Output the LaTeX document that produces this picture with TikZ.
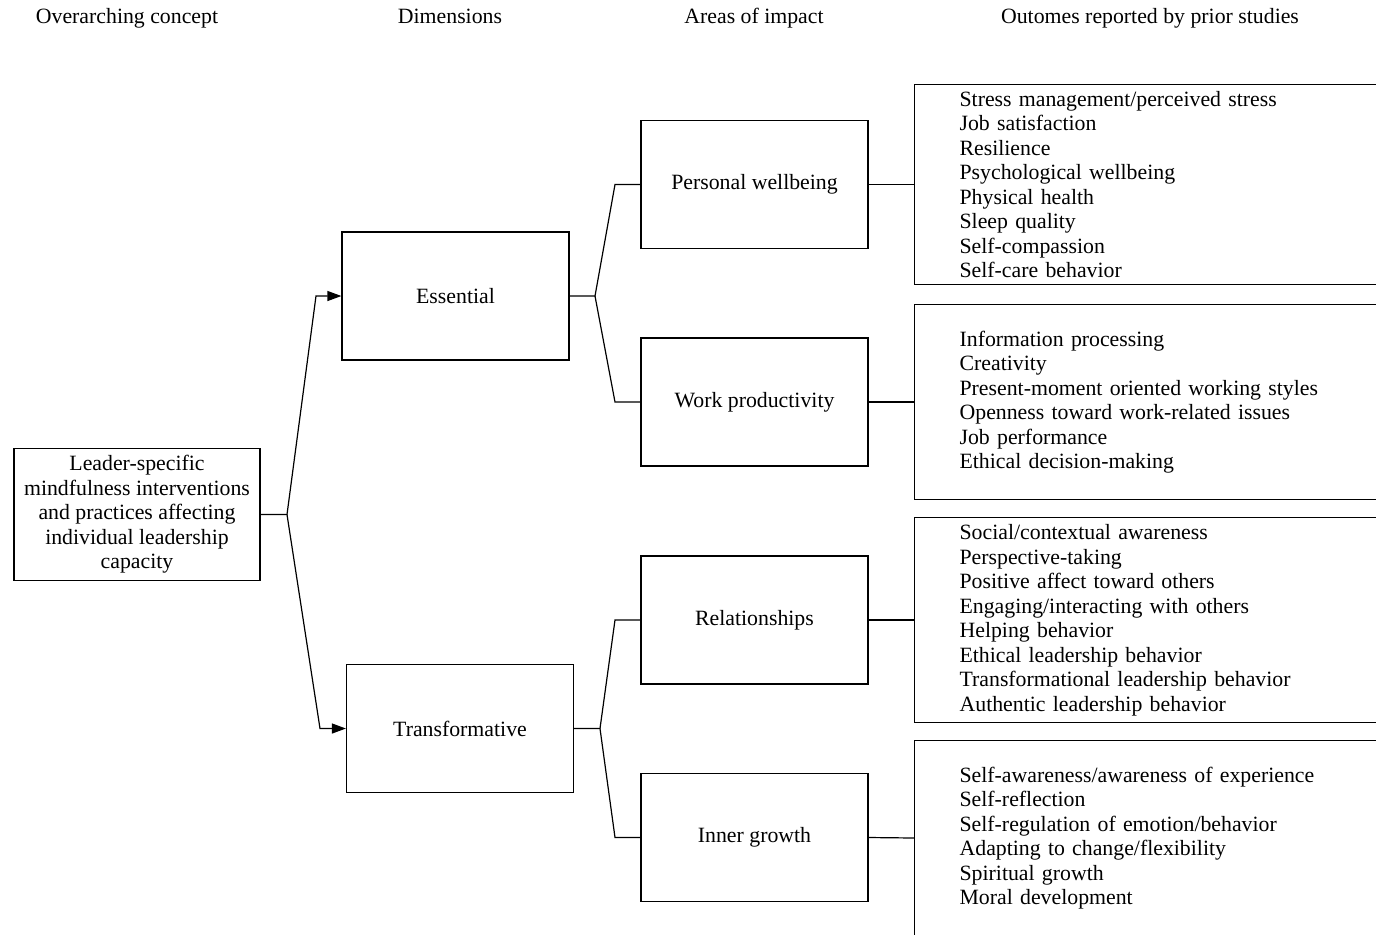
\documentclass[tikz,border=0pt]{standalone}
\usepackage{fontspec}
\setmainfont{Liberation Serif}
\usepackage{xcolor}
\usetikzlibrary{shapes,arrows.meta,positioning,calc}

\begin{document}
\begin{tikzpicture}[x=0.5pt,y=-0.5pt,line width=0.6pt,
    font=\fontsize{10.9}{12.25}\selectfont,
    >={Triangle[length=7pt,width=5pt]},
    box/.style={rectangle, draw, minimum width=113.5pt, minimum height=64pt, align=center},
    listbox/.style={rectangle, draw, anchor=west, text width=280pt, inner xsep=22.5pt, minimum height=97.5pt, align=left},
    head/.style={inner sep=0pt, anchor=base}]
    \path[use as bounding box] (0,0) rectangle (1376,934);
    \clip (0,0) rectangle (1376,934);

    % column titles
    \node (h1) [head] at (127,23) {Overarching concept};
    \node (h2) [head] at (450,23) {Dimensions};
    \node (h3) [head] at (754,23) {Areas of impact};
    \node (h4) [head] at (1150,23) {Outomes reported by prior studies};

    \node (lead) [box, minimum width=123pt] at (137,514.5) {Leader-specific\\mindfulness interventions\\and practices affecting\\individual leadership\\capacity};
    \node (ess) [box] at (455.5,296) {Essential};
    \node (trans) [box] at (460,728.5) {Transformative};

    \node (pw) [box] at (754.5,184.5) {Personal wellbeing};
    \node (wp) [box] at (754.5,402) {Work productivity};
    \node (rel) [box] at (754.5,620) {Relationships};
    \node (ig) [box] at (754.5,837.5) {Inner growth};

    \node (out1) [listbox] at (914,184.5) {Stress management/perceived stress\\Job satisfaction\\Resilience\\Psychological wellbeing\\Physical health\\Sleep quality\\Self-compassion\\Self-care behavior};
    \node (out2) [listbox] at (914,402) {Information processing\\Creativity\\Present-moment oriented working styles\\Openness toward work-related issues\\Job performance\\Ethical decision-making};
    \node (out3) [listbox] at (914,620) {Social/contextual awareness\\Perspective-taking\\Positive affect toward others\\Engaging/interacting with others\\Helping behavior\\Ethical leadership behavior\\Transformational leadership behavior\\Authentic leadership behavior};
    \node (out4) [listbox] at (914,838) {Self-awareness/awareness of experience\\Self-reflection\\Self-regulation of emotion/behavior\\Adapting to change/flexibility\\Spiritual growth\\Moral development};

    % branch points
    \coordinate (j0) at (287,514.5);
    \coordinate (k1) at (316,296);
    \coordinate (k2) at (320,728.5);
    \coordinate (j1) at (595,296);
    \coordinate (m1) at (615,184.5);
    \coordinate (m2) at (615,402);
    \coordinate (j2) at (600,728.5);
    \coordinate (m3) at (615,620);
    \coordinate (m4) at (615,837.5);

    \draw [->] (lead.east) -- (j0) -- (k1) -- (ess.west);
    \draw [->] (j0) -- (k2) -- (trans.west);
    \draw (ess.east) -- (j1) -- (m1) -- (pw.west);
    \draw (j1) -- (m2) -- (wp.west);
    \draw (trans.east) -- (j2) -- (m3) -- (rel.west);
    \draw (j2) -- (m4) -- (ig.west);

    \draw (pw.east) -- (out1.west);
    \draw (wp.east) -- (out2.west);
    \draw (rel.east) -- (out3.west);
    \draw (ig.east) -- (out4.west);
\end{tikzpicture}
\end{document}
